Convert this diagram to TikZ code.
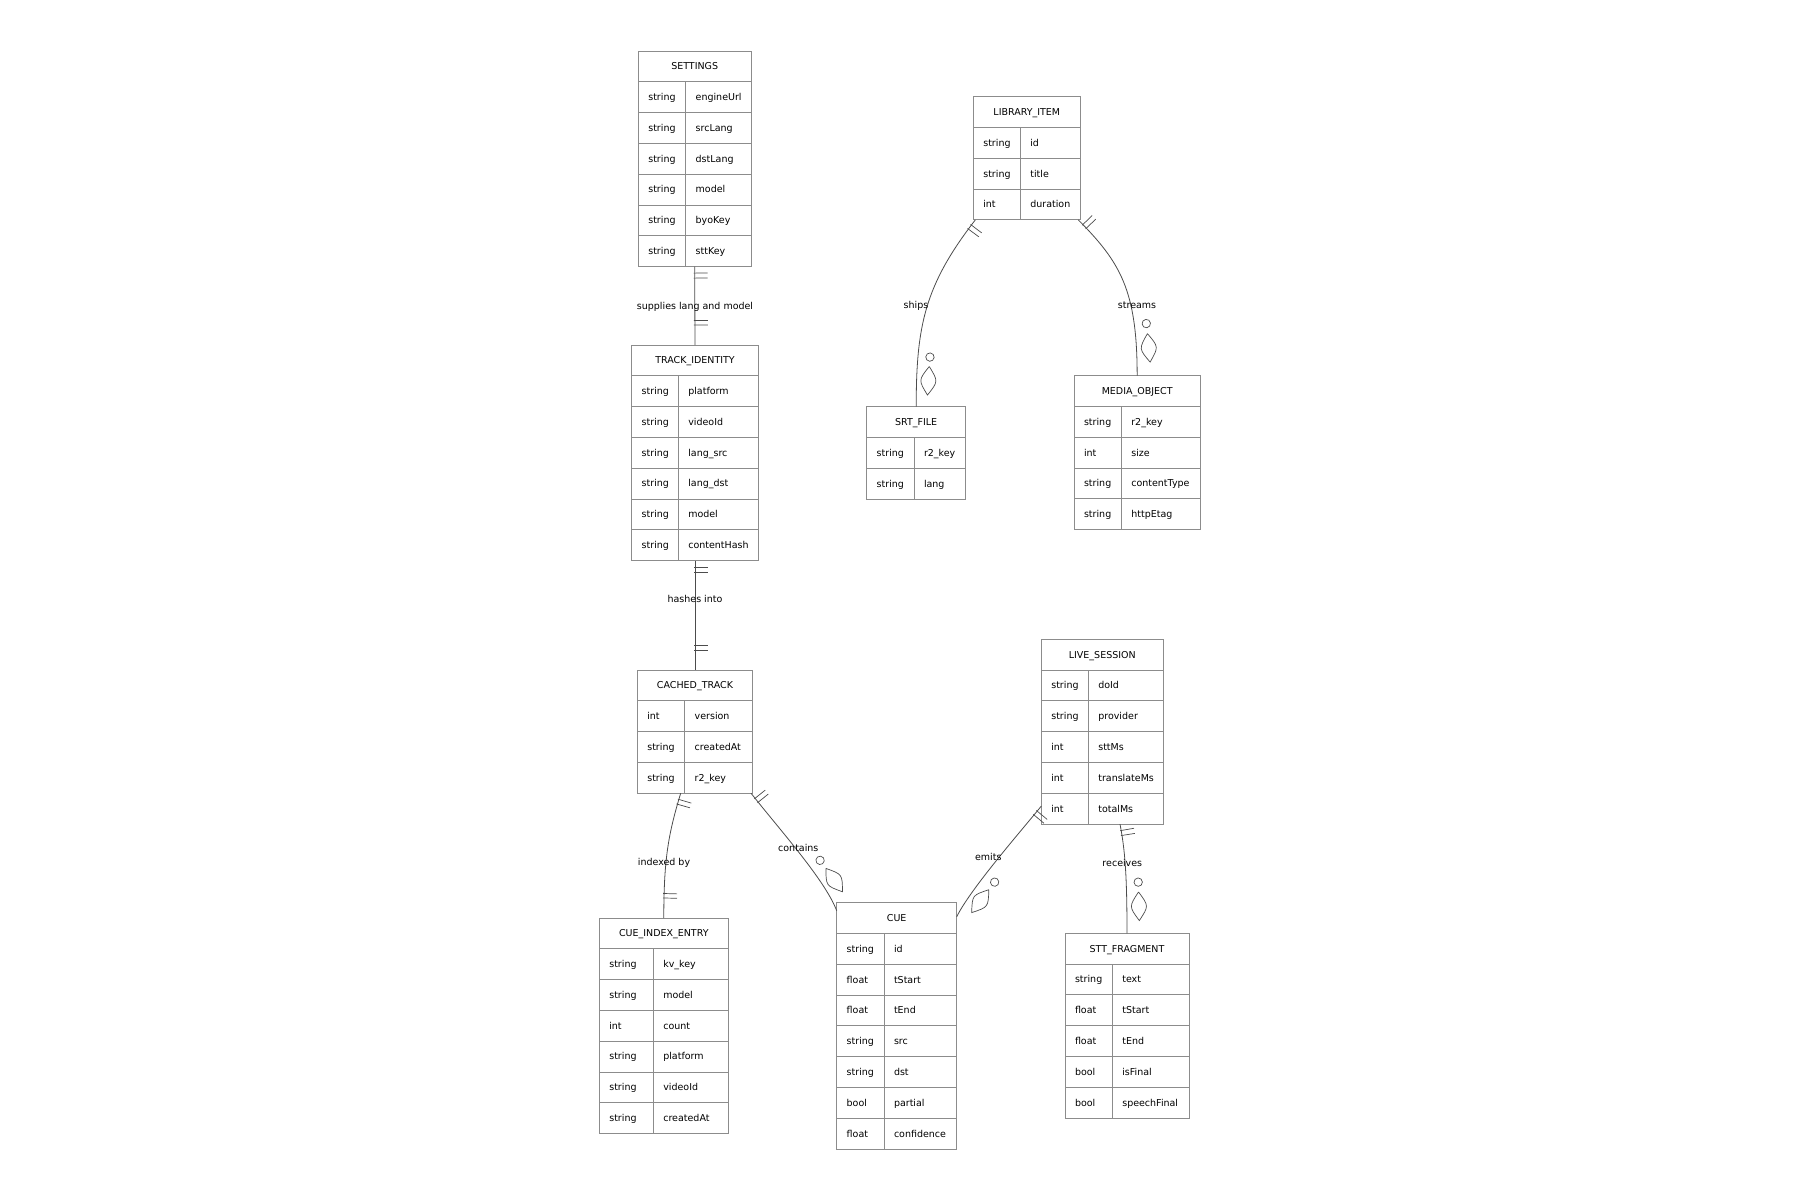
\documentclass[tikz,border=0pt]{standalone}
\usepackage{fontspec}
\setmainfont{DejaVu Sans}
\usetikzlibrary{positioning,fit,calc,decorations.markings}

\begin{document}
\begin{tikzpicture}[x=1pt,y=-1pt,
  every node/.style={font=\fontsize{9.5}{11}\selectfont},
  cell/.style={rectangle,draw=black!45,line width=0.9pt,outer sep=0pt,minimum height=30.8pt,inner xsep=10pt,inner ysep=0pt,text height=7.6pt,text depth=1pt},
  headcell/.style={cell},
  tcell/.style={cell,text width=#1,align=left},
  ncell/.style={cell,text width=#1,align=left},
  entbox/.style={inner sep=0pt,outer sep=0pt},
  rel/.style={draw=black!70,line width=0.8pt},
  rellabel/.style={inner sep=1pt},
  mk/.style={draw=black!70,line width=0.7pt},
  onestart/.style={postaction={decorate,decoration={markings,
      mark=at position 6.5pt with {\draw[mk] (0pt,-1pt) -- (0pt,13pt);},
      mark=at position 11.5pt with {\draw[mk] (0pt,-1pt) -- (0pt,13pt);}}}},
  oneend/.style={postaction={decorate,decoration={markings,
      mark=at position -24.5pt with {\draw[mk] (0pt,-1pt) -- (0pt,13pt);},
      mark=at position -20pt with {\draw[mk] (0pt,-1pt) -- (0pt,13pt);}}}},
  manyend/.style={postaction={decorate,decoration={markings,
      mark=at position -50.7pt with {\draw[mk] (0pt,12pt) circle (4.2pt);},
      mark=at position -41pt with {\draw[mk] (0pt,12pt) .. controls (14.3pt,22pt) .. (28.6pt,12pt) .. controls (14.3pt,2pt) .. (0pt,12pt);}}}}
]
\useasboundingbox (0,0) rectangle (1800,1200);

% settings
\node[headcell,minimum width=112.7,anchor=north] (settings) at (694.65,51) {SETTINGS};
\foreach \t/\f [count=\i] in {string/engineUrl,string/srcLang,string/dstLang,string/model,string/byoKey,string/sttKey} {
  \node[tcell=27.4pt,anchor=north west] (settings-t\i) at (638.3,{51+30.8*\i}) {\t};
  \node[ncell=45.3pt,right=0pt of settings-t\i] (settings-n\i) {\f};
}
\node[entbox,fit=(settings)(settings-n6)] (settingsBox) {};

% track identity
\node[headcell,minimum width=126.6,anchor=north] (track) at (695,345) {TRACK\_IDENTITY};
\foreach \t/\f [count=\i] in {string/platform,string/videoId,string/lang\_src,string/lang\_dst,string/model,string/contentHash} {
  \node[tcell=26.6pt,anchor=north west] (track-t\i) at (631.7,{345+30.8*\i}) {\t};
  \node[ncell=60pt,right=0pt of track-t\i] (track-n\i) {\f};
}
\node[entbox,fit=(track)(track-n6)] (trackBox) {};

% library item
\node[headcell,minimum width=107,anchor=north] (library) at (1026.8,96.7) {LIBRARY\_ITEM};
\foreach \t/\f [count=\i] in {string/id,string/title,int/duration} {
  \node[tcell=27pt,anchor=north west] (library-t\i) at (973.3,{96.7+30.8*\i}) {\t};
  \node[ncell=40pt,right=0pt of library-t\i] (library-n\i) {\f};
}
\node[entbox,fit=(library)(library-n3)] (libraryBox) {};

% srt file
\node[headcell,minimum width=99,anchor=north] (srt) at (916.2,406.7) {SRT\_FILE};
\foreach \t/\f [count=\i] in {string/r2\_key,string/lang} {
  \node[tcell=27.3pt,anchor=north west] (srt-t\i) at (866.7,{406.7+30.8*\i}) {\t};
  \node[ncell=31.7pt,right=0pt of srt-t\i] (srt-n\i) {\f};
}
\node[entbox,fit=(srt)(srt-n2)] (srtBox) {};

% media object
\node[headcell,minimum width=126.3,anchor=north] (media) at (1137.15,375.7) {MEDIA\_OBJECT};
\foreach \t/\f [count=\i] in {string/r2\_key,int/size,string/contentType,string/httpEtag} {
  \node[tcell=27.3pt,anchor=north west] (media-t\i) at (1074,{375.7+30.8*\i}) {\t};
  \node[ncell=59pt,right=0pt of media-t\i] (media-n\i) {\f};
}
\node[entbox,fit=(media)(media-n4)] (mediaBox) {};

% cached track
\node[headcell,minimum width=115.4,anchor=north] (cached) at (695,670) {CACHED\_TRACK};
\foreach \t/\f [count=\i] in {int/version,string/createdAt,string/r2\_key} {
  \node[tcell=27.4pt,anchor=north west] (cached-t\i) at (637.3,{670+30.8*\i}) {\t};
  \node[ncell=48pt,right=0pt of cached-t\i] (cached-n\i) {\f};
}
\node[entbox,fit=(cached)(cached-n3)] (cachedBox) {};

% cue index entry
\node[headcell,minimum width=129,anchor=north] (cueIndex) at (663.8,918) {CUE\_INDEX\_ENTRY};
\foreach \t/\f [count=\i] in {string/kv\_key,string/model,int/count,string/platform,string/videoId,string/createdAt} {
  \node[tcell=34pt,anchor=north west] (cueIndex-t\i) at (599.3,{918+30.8*\i}) {\t};
  \node[ncell=55pt,right=0pt of cueIndex-t\i] (cueIndex-n\i) {\f};
}
\node[entbox,fit=(cueIndex)(cueIndex-n6)] (cueIndexBox) {};

% cue
\node[headcell,minimum width=120,anchor=north] (cue) at (896.7,902.7) {CUE};
\foreach \t/\f [count=\i] in {string/id,float/tStart,float/tEnd,string/src,string/dst,bool/partial,float/confidence} {
  \node[tcell=27.3pt,anchor=north west] (cue-t\i) at (836.7,{902.7+30.8*\i}) {\t};
  \node[ncell=52.7pt,right=0pt of cue-t\i] (cue-n\i) {\f};
}
\node[entbox,fit=(cue)(cue-n7)] (cueBox) {};

% live session
\node[headcell,minimum width=122,anchor=north] (live) at (1102.3,639.3) {LIVE\_SESSION};
\foreach \t/\f [count=\i] in {string/doId,string/provider,int/sttMs,int/translateMs,int/totalMs} {
  \node[tcell=27pt,anchor=north west] (live-t\i) at (1041.3,{639.3+30.8*\i}) {\t};
  \node[ncell=55pt,right=0pt of live-t\i] (live-n\i) {\f};
}
\node[entbox,fit=(live)(live-n5)] (liveBox) {};

% stt fragment
\node[headcell,minimum width=124,anchor=north] (stt) at (1127,933.3) {STT\_FRAGMENT};
\foreach \t/\f [count=\i] in {string/text,float/tStart,float/tEnd,bool/isFinal,bool/speechFinal} {
  \node[tcell=27.3pt,anchor=north west] (stt-t\i) at (1065,{933.3+30.8*\i}) {\t};
  \node[ncell=56.7pt,right=0pt of stt-t\i] (stt-n\i) {\f};
}
\node[entbox,fit=(stt)(stt-n5)] (sttBox) {};

% relationships
\draw[rel,onestart,oneend] (settingsBox.south) -- (trackBox.north);
\draw[rel,onestart,oneend] (trackBox.south) -- (cachedBox.north);
\draw[rel,onestart,manyend] ($(libraryBox.south west)+(2,0)$) .. controls (925,285) and (916.2,325) .. (srtBox.north);
\draw[rel,onestart,manyend] ($(libraryBox.south east)+(-2,0)$) .. controls (1120,262) and (1137.2,290) .. (mediaBox.north);
\draw[rel,onestart,oneend] ($(cachedBox.south)+(-14.3,0)$) .. controls (668,835) and (663.8,860) .. (cueIndexBox.north);
\draw[rel,onestart,manyend] ($(cachedBox.south east)+(-1.7,0)$) .. controls (780,830) and (825,880) .. ($(cueBox.north west)+(0,8)$);
\draw[rel,onestart,manyend] ($(liveBox.south west)+(0,-18)$) .. controls (1015,838) and (970,890) .. ($(cueBox.north east)+(0,14)$);
\draw[rel,onestart,manyend] ($(liveBox.south)+(17.7,0)$) .. controls (1125,850) and (1127,875) .. (sttBox.north);

\node[rellabel] (lblSupplies) at (695,307) {supplies lang and model};
\node[rellabel] (lblHashes) at (695,599) {hashes into};
\node[rellabel] (lblShips) at (916,305.7) {ships};
\node[rellabel] (lblStreams) at (1137,305.7) {streams};
\node[rellabel] (lblIndexed) at (664,863.3) {indexed by};
\node[rellabel] (lblContains) at (798.3,848.3) {contains};
\node[rellabel] (lblEmits) at (988.3,856.7) {emits};
\node[rellabel] (lblReceives) at (1122.3,863.3) {receives};
\end{tikzpicture}
\end{document}
